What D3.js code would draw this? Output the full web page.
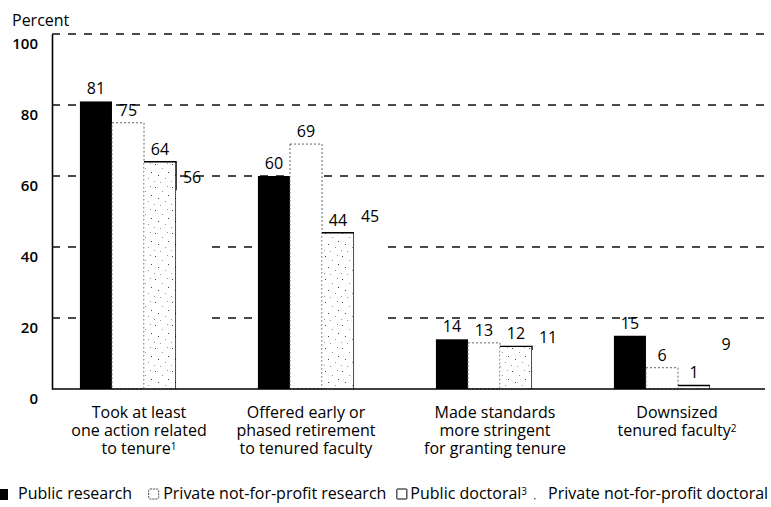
<!DOCTYPE html>
<html>
<head>
<meta charset="utf-8">
<script src="https://cdn.jsdelivr.net/npm/d3@7/dist/d3.min.js"></script>
<style>
  html, body { margin: 0; padding: 0; background: #fff; }
  svg { display: block; }
  text { font-family: "Open Sans", "Noto Sans", sans-serif; fill: #000; }
</style>
</head>
<body>
<svg id="chart" width="771" height="507"></svg>
<script>
// Share of institutions taking tenure-related actions, by institution type
const categories = [
  ["Took at least", "one action related", "to tenure|1"],
  ["Offered early or", "phased retirement", "to tenured faculty"],
  ["Made standards", "more stringent", "for granting tenure"],
  ["Downsized", "tenured faculty|2"]
];
const seriesNames = [
  "Public research",
  "Private not-for-profit research",
  "Public doctoral|3",
  "Private not-for-profit doctoral"
];
const publicResearch   = [81, 60, 14, 15];
const privateResearch  = [75, 69, 13, 6];
const publicDoctoral   = [64, 44, 12, 1];
const privateDoctoral  = [56, 45, 11, 9];
const yTicks = [0, 20, 40, 60, 80, 100];

const series = [publicResearch, privateResearch, publicDoctoral, privateDoctoral];

const svg = d3.select("#chart");
const W = 771;
const axisX = 52;

// sparse stippled texture for the public doctoral bars
const defs = svg.append("defs");
const pat = defs.append("pattern")
  .attr("id", "stipple").attr("patternUnits", "userSpaceOnUse")
  .attr("width", 17).attr("height", 23);
pat.append("rect").attr("width", 17).attr("height", 23).attr("fill", "#fff");
const dots = [[2,3],[9,7],[14,2],[5,14],[12,17],[1,20],[15,11],[7,21]];
pat.selectAll("rect.d").data(dots).join("rect").attr("class", "d")
  .attr("x", d => d[0]).attr("y", d => d[1])
  .attr("width", 1).attr("height", 1)
  .attr("fill", (d, i) => i % 3 === 0 ? "#444" : "#999");

const y = d3.scaleLinear().domain([0, 100]).range([389, 34]);
const x0 = d3.scaleBand().domain(d3.range(categories.length))
  .range([55, 767]).paddingInner(0.28).paddingOuter(0.14);
const x1 = d3.scaleBand().domain(d3.range(series.length))
  .range([0, x0.bandwidth()]);

// dashed gridlines
svg.append("g").selectAll("line").data(yTicks.filter(t => t > 0)).join("line")
  .attr("x1", axisX).attr("x2", W)
  .attr("y1", d => y(d)).attr("y2", d => y(d))
  .attr("stroke", "#111").attr("stroke-width", 1.3)
  .attr("stroke-dasharray", "8,8");

// y axis line + tick labels
const yAxis = d3.axisLeft(y).tickValues(yTicks).tickSize(0).tickPadding(14);
const gy = svg.append("g").attr("transform", `translate(${axisX},0)`).call(yAxis);
gy.select(".domain").attr("stroke", "#000").attr("stroke-width", 1.6);
gy.selectAll(".tick text")
  .attr("dy", "0.95em")
  .attr("font-size", 15).attr("font-weight", 600)
  .attr("font-family", "'Open Sans', sans-serif").attr("fill", "#000");

svg.append("text").attr("x", 12).attr("y", 26)
  .attr("font-size", 16).text("Percent");

// bars
const bars = svg.append("g");
const bx = (i, s) => x0(i) + x1(s);
const bw = x1.bandwidth();

// public research: solid black
bars.selectAll(null).data(publicResearch).join("rect")
  .attr("x", (d, i) => bx(i, 0)).attr("y", d => y(d))
  .attr("width", bw).attr("height", d => y(0) - y(d))
  .attr("fill", "#000");

// private research: white with fine dotted outline
bars.selectAll(null).data(privateResearch).join("rect")
  .attr("x", (d, i) => bx(i, 1)).attr("y", d => y(d))
  .attr("width", bw).attr("height", d => y(0) - y(d))
  .attr("fill", "#fff").attr("stroke", "#555")
  .attr("stroke-width", 0.9).attr("stroke-dasharray", "2,2");

// public doctoral: stippled, solid top and right edge, dotted left edge
bars.selectAll(null).data(publicDoctoral).join("rect")
  .attr("x", (d, i) => bx(i, 2)).attr("y", d => y(d))
  .attr("width", bw).attr("height", d => y(0) - y(d))
  .attr("fill", "url(#stipple)").attr("stroke", "#777")
  .attr("stroke-width", 0.8).attr("stroke-dasharray", "1,3");
bars.selectAll(null).data(publicDoctoral).join("path")
  .attr("d", (d, i) => `M${bx(i, 2)},${y(d)}H${bx(i, 2) + bw}V${y(0)}`)
  .attr("fill", "none").attr("stroke", "#000").attr("stroke-width", 1.4);

// private doctoral: plain white, no outline
bars.selectAll(null).data(privateDoctoral).join("rect")
  .attr("x", (d, i) => bx(i, 3)).attr("y", d => y(d))
  .attr("width", bw).attr("height", d => y(0) - y(d))
  .attr("fill", "#fff");

// baseline
svg.append("line").attr("x1", axisX).attr("x2", 765)
  .attr("y1", y(0)).attr("y2", y(0))
  .attr("stroke", "#000").attr("stroke-width", 1.6);

// value labels
const labels = svg.append("g");
series.forEach((vals, s) => {
  labels.selectAll(null).data(vals).join("text")
    .attr("x", (d, i) => bx(i, s) + bw / 2)
    .attr("y", d => y(d) - 7)
    .attr("text-anchor", "middle")
    .attr("font-size", 16)
    .text(d => d);
});

// write "text|n" as text with superscript n
function withSup(sel, str, supSize) {
  const [main, sup] = str.split("|");
  sel.append("tspan").text(main);
  if (sup) sel.append("tspan").attr("dy", "-0.45em").attr("font-size", supSize).text(sup);
}

// category labels
const labelNudge = [-5, -16, -5, -1];
categories.forEach((lines, i) => {
  const cx = x0(i) + x0.bandwidth() / 2 + labelNudge[i];
  lines.forEach((ln, j) => {
    const t = svg.append("text")
      .attr("x", cx).attr("y", 418 + j * 18)
      .attr("text-anchor", "middle").attr("font-size", 16);
    withSup(t, ln, 10);
  });
});

// legend: items laid out left to right, the last one runs off the edge
const legY = 499;
const leg = svg.append("g");
function legendSymbol(s, x) {
  if (s === 0) {
    leg.append("rect").attr("x", x - 1).attr("y", legY - 10).attr("width", 9).attr("height", 11).attr("fill", "#000");
  } else if (s === 3) {
    leg.append("rect").attr("x", x).attr("y", legY - 1).attr("width", 1.4).attr("height", 1.4).attr("fill", "#444");
  } else {
    leg.append("rect").attr("x", x + 0.5).attr("y", legY - 10).attr("width", 10).attr("height", 10)
      .attr("rx", s === 1 ? 1.5 : 0.5)
      .attr("fill", "#fff").attr("stroke", s === 1 ? "#444" : "#000")
      .attr("stroke-width", 1).attr("stroke-dasharray", s === 1 ? "2,1" : null);
  }
}
const symGap = [18, 15, 14, 14];
const itemGap = [16, 10, 7];
let cursor = 0;
seriesNames.forEach((name, s) => {
  legendSymbol(s, cursor);
  const t = leg.append("text").attr("x", cursor + symGap[s]).attr("y", legY).attr("font-size", 16);
  withSup(t, name, 10);
  const end = cursor + symGap[s] + t.node().getComputedTextLength();
  cursor = end + (itemGap[s] || 0);
});
</script>
</body>
</html>
